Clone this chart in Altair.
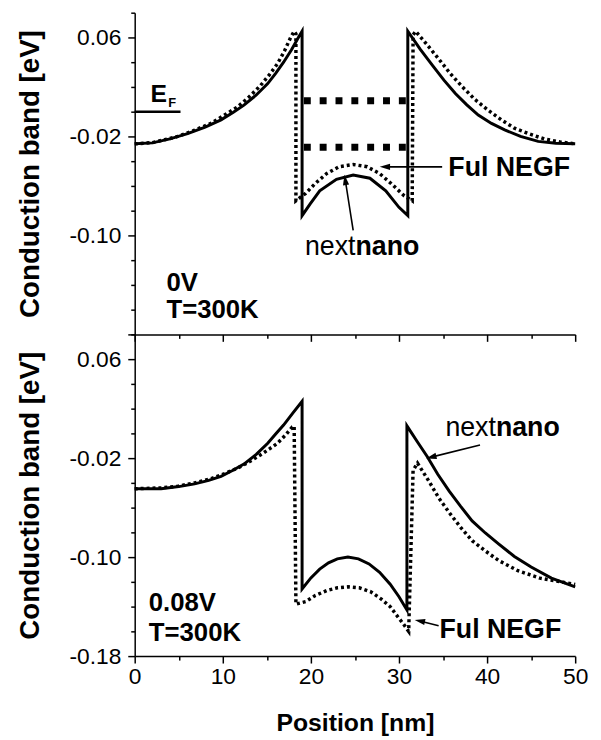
import altair as alt
import pandas as pd

FONT = "Liberation Sans"

# ---- axis ticks ----
x_ticks = [0, 5, 10, 15, 20, 25, 30, 35, 40, 45, 50]
y_ticks = [-0.18, -0.16, -0.14, -0.12, -0.10, -0.08, -0.06, -0.04, -0.02,
           0.0, 0.02, 0.04, 0.06, 0.08]

# ---- top panel: 0 V ----
top_nn_x = [0, 2, 4, 6, 8, 9.8, 11.2, 12.4, 13.8, 15.1, 16.0, 16.9, 17.8, 18.5, 19.0,
            19.0, 19.9, 21.0, 22.9, 24.8, 26.7, 28.5, 30.0, 31.0, 31.0,
            32.4, 33.8, 35.1, 36.4, 37.7, 39.0, 40.5, 42.0, 43.8, 45.8, 47.8, 50]
top_nn_y = [-0.026, -0.0252, -0.022, -0.0178, -0.0125, -0.0066, -0.0005, 0.0053, 0.0135,
            0.0227, 0.031, 0.040, 0.050, 0.059, 0.065,
            -0.084, -0.0747, -0.064, -0.0547, -0.0512, -0.0538, -0.064, -0.0773, -0.084, 0.065,
            0.0505, 0.0374, 0.0255, 0.0147, 0.0055, -0.0027, -0.0095, -0.0147, -0.020,
            -0.024, -0.0255, -0.026]
top_negf_x = [0, 2, 3.5, 4.9, 6.8, 8.7, 10.2, 11.7, 13.0, 14.3, 15.3, 16.2, 17.0, 17.7, 18.1,
              18.3, 18.3, 19.4, 20.5, 21.8, 23.2, 24.8, 26.4, 27.8, 29.1, 30.6, 31.5,
              31.6, 31.9, 33.2, 34.5, 35.8, 37.2, 38.6, 40.1, 41.6, 43.1, 44.8, 46.5, 48.3, 50]
top_negf_y = [-0.026, -0.025, -0.0225, -0.020, -0.015, -0.0093, -0.0027, 0.004, 0.012,
              0.0213, 0.030, 0.0387, 0.049, 0.060, 0.065,
              0.063, -0.072, -0.066, -0.058, -0.050, -0.0445, -0.0427, -0.0445, -0.050,
              -0.058, -0.068, -0.072,
              0.062, 0.065, 0.054, 0.0427, 0.031, 0.020, 0.010, 0.0013, -0.0065, -0.0133,
              -0.018, -0.022, -0.0245, -0.026]
level_x = [19.2, 31.0]
level_y = [0.0088, -0.0288]
ef_x = [0, 5.2]
ef_y = [0.0, 0.0]

# ---- bottom panel: 0.08 V ----
bot_nn_x = [0, 3.0, 5.0, 6.8, 8.4, 9.8, 11.1, 12.4, 13.8, 15.1, 16.0, 16.9, 17.9, 19.0,
            19.0, 20.0, 21.0, 22.0, 23.0, 24.2, 25.4, 26.6, 27.8, 29.0, 30.0, 30.9,
            30.9, 32.1, 33.2, 34.4, 35.7, 37.0, 38.3, 39.8, 41.3, 43.1, 45.0, 47.3, 50]
bot_nn_y = [-0.0448, -0.0448, -0.043, -0.0408, -0.038, -0.0347, -0.030, -0.0248, -0.017,
            -0.008, -0.0005, 0.0067, 0.016, 0.026,
            -0.1257, -0.1168, -0.1097, -0.1046, -0.1014, -0.100, -0.1014, -0.1055, -0.1123,
            -0.1219, -0.132, -0.1427,
            0.0061, -0.007, -0.0187, -0.033, -0.0467, -0.059, -0.0707, -0.0805, -0.0893,
            -0.0995, -0.108, -0.117, -0.124]
bot_negf_x = [0, 3.0, 4.9, 6.8, 8.7, 10.2, 11.7, 13.0, 14.3, 15.3, 16.2, 17.1, 17.9, 18.1,
              18.3, 19.4, 20.5, 21.8, 23.0, 24.2, 25.5, 26.8, 28.0, 29.0, 29.7, 30.5, 31.1,
              31.6, 32.1, 33.4, 34.5, 35.7, 37.0, 38.3, 39.8, 41.3, 43.5, 46.0, 50]
bot_negf_y = [-0.0448, -0.044, -0.0427, -0.040, -0.0365, -0.0325, -0.028, -0.023, -0.0173,
              -0.0125, -0.008, -0.0015, 0.0053, 0.006,
              -0.138, -0.136, -0.131, -0.127, -0.1248, -0.124, -0.1248, -0.128, -0.134,
              -0.140, -0.1467, -0.154, -0.160,
              -0.030, -0.024, -0.0387, -0.052, -0.064, -0.076, -0.0867, -0.095, -0.1027,
              -0.111, -0.117, -0.122]

# ---- annotation texts / arrows (data coordinates) ----
top_cond = ["0V", "T=300K"]
top_cond_x = [3.6, 3.6]
top_cond_y = [-0.1446, -0.1664]
bot_cond = ["0.08V", "T=300K"]
bot_cond_x = [1.6, 1.6]
bot_cond_y = [-0.1438, -0.168]

top_negf_lab = (35.6, -0.052)
bot_negf_lab = (34.6, -0.1656)
top_nn_lab = (25.06, -0.116)
bot_nn_lab = (41.0, -0.0024)

# arrows: tail x, tail y, head x, head y, head angle
top_arrows = [(34.9, -0.0446, 28.4, -0.0446, 270), (24.8, -0.096, 23.9, -0.0552, 351)]
bot_arrows = [(39.2, -0.0094, 33.66, -0.0192, 256), (34.5, -0.1554, 32.36, -0.1516, 282)]

ef_label_e = (1.8, 0.008)
ef_label_f = (3.82, 0.004)

MAJ_Y = "abs((datum.value + 0.18) / 0.08 - round((datum.value + 0.18) / 0.08)) < 0.01"
MAJ_X = "datum.value % 10 == 0"


def encodings(top):
    y_lab = f"({MAJ_Y})" + (" && datum.value > -0.17" if top else "")
    yax = alt.Axis(
        values=y_ticks,
        labelExpr=f"{y_lab} ? (datum.value < 0 ? '-' : '') + format(abs(datum.value), '.2f') : ''",
        tickSize={"condition": {"test": MAJ_Y, "value": 7}, "value": 4},
        labelFontSize={"condition": {"test": y_lab, "value": 23}, "value": 0},
        title="Conduction band [eV]",
        titleFont=FONT, titleFontSize=28, titleFontWeight="bold", titleColor="black",
        titlePadding=25,
        labelFont=FONT, labelColor="black", labelPadding=7,
        labelOverlap=False, labelFlush=False,
        domainColor="black", domainWidth=1.5, tickColor="black", tickWidth=1.5,
        grid=False,
    )
    xax = alt.Axis(
        values=x_ticks,
        labels=not top,
        labelExpr=f"{MAJ_X} ? datum.label : ''",
        tickSize={"condition": {"test": MAJ_X, "value": 7}, "value": 4},
        labelFontSize={"condition": {"test": MAJ_X, "value": 23}, "value": 0},
        title="" if top else "Position [nm]",
        titleFont=FONT, titleFontSize=25, titleFontWeight="bold", titleColor="black",
        titlePadding=22,
        labelFont=FONT, labelColor="black", labelPadding=3,
        labelOverlap=False, labelFlush=False,
        domainColor="black", domainWidth=1.5, tickColor="black", tickWidth=1.5,
        grid=False,
    )
    xe = alt.X("x:Q", scale=alt.Scale(domain=[0, 50], nice=False, zero=False), axis=xax)
    ye = alt.Y("y:Q", scale=alt.Scale(domain=[-0.18, 0.08], nice=False, zero=False), axis=yax)
    return xe, ye


def line_df(xs, ys):
    return pd.DataFrame({"x": xs, "y": ys, "i": list(range(len(xs)))})


def text_layer(xe, ye, xs, ys, texts, size, weight, align="left"):
    df = pd.DataFrame({"x": xs, "y": ys, "t": texts})
    return alt.Chart(df).mark_text(
        font=FONT, fontSize=size, fontWeight=weight, align=align,
        baseline="alphabetic", color="black").encode(x=xe, y=ye, text="t:N")


def panel(top):
    xe, ye = encodings(top)
    nn_x, nn_y = (top_nn_x, top_nn_y) if top else (bot_nn_x, bot_nn_y)
    ng_x, ng_y = (top_negf_x, top_negf_y) if top else (bot_negf_x, bot_negf_y)
    layers = []
    layers.append(alt.Chart(line_df(nn_x, nn_y)).mark_line(
        color="black", strokeWidth=3, strokeJoin="miter").encode(x=xe, y=ye, order="i:Q"))
    layers.append(alt.Chart(line_df(ng_x, ng_y)).mark_line(
        color="black", strokeWidth=3.5, strokeDash=[3, 3], strokeCap="butt").encode(
        x=xe, y=ye, order="i:Q"))
    if top:
        lv = pd.DataFrame({
            "x": [level_x[0], level_x[1], level_x[0], level_x[1]],
            "y": [level_y[0], level_y[0], level_y[1], level_y[1]],
            "lvl": ["a", "a", "b", "b"],
        })
        layers.append(alt.Chart(lv).mark_line(
            color="black", strokeWidth=7, strokeDash=[7, 9], strokeCap="butt").encode(
            x=xe, y=ye, detail="lvl:N"))
        layers.append(alt.Chart(line_df(ef_x, ef_y)).mark_line(
            color="black", strokeWidth=2.5).encode(x=xe, y=ye, order="i:Q"))
        layers.append(text_layer(xe, ye, [ef_label_e[0]], [ef_label_e[1]], ["E"], 25, "bold"))
        layers.append(text_layer(xe, ye, [ef_label_f[0]], [ef_label_f[1]], ["F"], 13, "bold"))
    cond, cx, cy = (top_cond, top_cond_x, top_cond_y) if top else (bot_cond, bot_cond_x, bot_cond_y)
    layers.append(text_layer(xe, ye, cx, cy, cond, 26, "bold"))
    nl = top_negf_lab if top else bot_negf_lab
    layers.append(text_layer(xe, ye, [nl[0]], [nl[1]], ["Ful NEGF"], 27, "bold"))
    nn = top_nn_lab if top else bot_nn_lab
    layers.append(text_layer(xe, ye, [nn[0]], [nn[1]], ["next"], 27, "normal", "right"))
    layers.append(text_layer(xe, ye, [nn[0]], [nn[1]], ["nano"], 27, "bold", "left"))
    arrows = top_arrows if top else bot_arrows
    adf = pd.DataFrame({
        "x": [a[0] for a in arrows], "y": [a[1] for a in arrows],
        "x2": [a[2] for a in arrows], "y2": [a[3] for a in arrows],
    })
    hdf = pd.DataFrame({"x": [a[2] for a in arrows], "y": [a[3] for a in arrows],
                        "a": [a[4] for a in arrows]})
    layers.append(alt.Chart(adf).mark_rule(color="black", strokeWidth=1.6).encode(
        x=xe, y=ye, x2="x2:Q", y2="y2:Q"))
    layers.append(alt.Chart(hdf).mark_point(
        shape="M0,-1L0.6,1L-0.6,1Z", filled=True, size=110, color="black", opacity=1).encode(
        x=xe, y=ye, angle=alt.Angle("a:Q", scale=None)))
    return alt.layer(*layers).properties(width=445, height=325)


chart = alt.vconcat(panel(True), panel(False), spacing=0, bounds="flush").properties(
    padding={"left": 8, "top": 0, "right": 5, "bottom": 0}
).configure_view(strokeWidth=0)

chart.save("out.html", embed_options={"renderer": "svg", "actions": False})
